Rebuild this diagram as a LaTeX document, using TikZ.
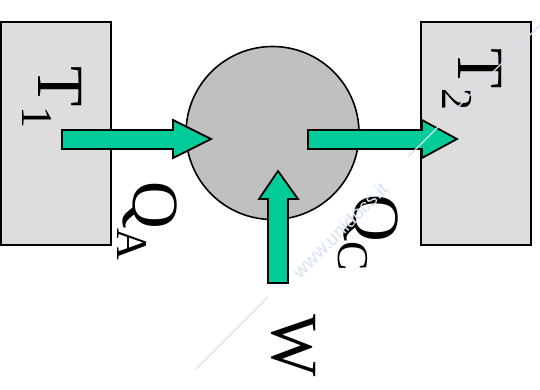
\documentclass[tikz,border=0pt]{standalone}
\usepackage{fontspec}
\setmainfont{Liberation Serif}
\newfontfamily\wmfont{Liberation Sans}
\definecolor{reservoir}{HTML}{DDDDDD}
\definecolor{engine}{HTML}{C0C0C0}
\definecolor{flow}{HTML}{00CC99}
\definecolor{wmark}{HTML}{D4E3F2}
% symbol with a lowered subscript
\newcommand{\sublbl}[2]{#1{\fontsize{44}{44}\selectfont\raisebox{-16pt}{#2}}}
\begin{document}
\begin{tikzpicture}[x=1pt,y=-1pt,
  reservoirbox/.style={draw=black,line width=1.8pt,fill=reservoir,
    minimum width=110pt,minimum height=223pt,inner sep=0pt},
  enginedisc/.style={circle,draw=black,line width=1.6pt,fill=engine,
    minimum size=173pt,inner sep=0pt},
  flowarrow/.style={draw=black,line width=1.8pt,fill=flow,line join=miter},
  symlbl/.style={rotate=-90,anchor=base west,inner sep=0pt,
    font=\fontsize{66}{66}\selectfont},
  wmline/.style={draw=wmark,line width=1.3pt}]
\useasboundingbox (0,0) rectangle (540,389);

% reservoirs and engine
\node[reservoirbox] (hot) at (56,133.5) {};
\node[reservoirbox] (cold) at (476,133.5) {};
\node[enginedisc] (eng) at (272.5,133) {};

% heat and work arrows
\draw[flowarrow] (62,130) -- (173,130) -- (173,120) -- (211,139)
  -- (173,158) -- (173,149) -- (62,149) -- cycle;
\draw[flowarrow] (308,130) -- (422,130) -- (422,120) -- (457,139)
  -- (422,158) -- (422,149) -- (308,149) -- cycle;
\draw[flowarrow] (268,283) -- (268,199) -- (259,199) -- (278,171)
  -- (298,199) -- (288,199) -- (288,283) -- cycle;

% labels
\node[symlbl] (t1) at (38,66) {\sublbl{T}{1}};
\node[symlbl] (qa) at (133,181) {\sublbl{Q}{A}};
\node[symlbl] (qc) at (354,194) {\sublbl{Q}{C}};
\node[symlbl] (t2) at (458,48) {\sublbl{T}{2}};
\node[symlbl] (w) at (272,314) {W};

% watermark
\draw[wmline] (196,369) -- (268,297);
\draw[wmline] (408,157) -- (540,25);
\node[rotate=45,text=wmark,font=\wmfont\fontsize{19}{19}\selectfont,inner sep=0pt]
  (wm) at (340,230) {www.unidocs.it};
\end{tikzpicture}
\end{document}
